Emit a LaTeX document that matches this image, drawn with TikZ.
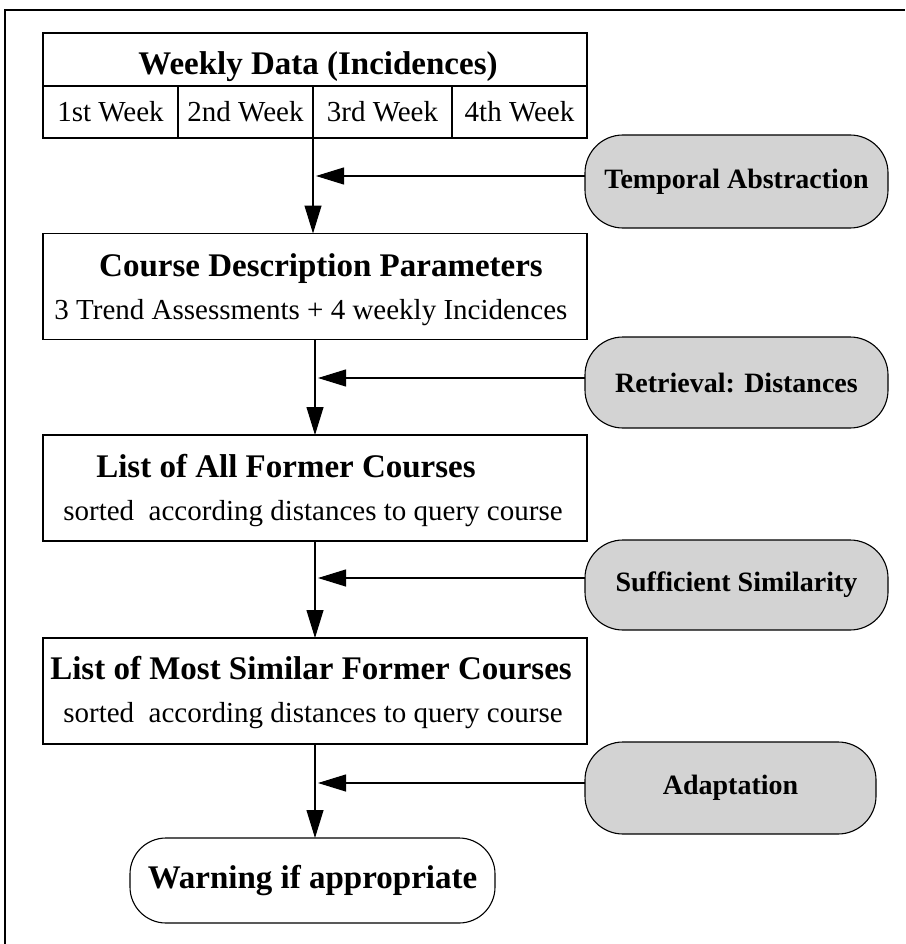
\documentclass[tikz,border=0pt]{standalone}
\usepackage{fontspec}
\setmainfont{Liberation Serif}
\usetikzlibrary{arrows.meta}
\definecolor{opgray}{RGB}{211,211,211}
\begin{document}
\begin{tikzpicture}[x=1pt,y=-1pt,
  every node/.style={inner sep=0pt, outer sep=0pt},
  frame/.style={line width=1.6pt},
  stage/.style={draw, line width=1.1pt, rectangle, minimum width=544pt, minimum height=106pt},
  cell/.style={draw, line width=1.1pt, rectangle, minimum height=52pt, font=\fontsize{29}{32}\selectfont},
  op/.style={draw, line width=1.1pt, fill=opgray, rounded corners=38pt, font=\fontsize{28}{30}\selectfont\bfseries},
  ttl/.style={font=\fontsize{33}{36}\selectfont\bfseries, anchor=base},
  sub/.style={font=\fontsize{29}{32}\selectfont, anchor=base},
  flow/.style={line width=1.1pt, -{Triangle[length=28pt,width=17pt]}},
]
\useasboundingbox (0,0) rectangle (905,944);

% outer frame (top and left edges)
\draw[frame] (5,944) -- (5,10) -- (905,10);

% weekly data table
\node[draw, line width=1.1pt, minimum width=544pt, minimum height=53pt] (head) at (315,59.5) {};
\node[ttl] (headtxt) at (318,75) {Weekly Data (Incidences)};
\node[cell, minimum width=135pt] (w1) at (110.5,112) {1st Week};
\node[cell, minimum width=135pt] (w2) at (245.5,112) {2nd Week};
\node[cell, minimum width=139pt] (w3) at (382.5,112) {3rd Week};
\node[cell, minimum width=135pt] (w4) at (519.5,112) {4th Week};

% processing stages
\node[stage] (b2) at (315,286.5) {};
\node[ttl] (t2) at (321,276) {Course Description Parameters};
\node[sub] (u2) at (311,319) {3 Trend Assessments + 4 weekly Incidences};

\node[stage] (b3) at (315,488) {};
\node[ttl] (t3) at (286,477) {List of All Former Courses};
\node[sub] (u3) at (313,520) {sorted\ \ according distances to query course};

\node[stage] (b4) at (315,691) {};
\node[ttl] (t4) at (311,679) {List of Most Similar Former Courses};
\node[sub] (u4) at (313,722) {sorted\ \ according distances to query course};

\node[draw, line width=1.1pt, rounded corners=36pt, minimum width=365pt, minimum height=85pt,
      font=\fontsize{33}{36}\selectfont\bfseries] (warn) at (312.5,880.5) {Warning if appropriate};

% operations
\node[op, minimum width=303pt, minimum height=93pt] (s1) at (736.5,181.5) {Temporal Abstraction};
\node[op, minimum width=303pt, minimum height=91pt] (s2) at (736.5,382.5) {Retrieval: Distances};
\node[op, minimum width=303pt, minimum height=90pt] (s3) at (736.5,585) {Sufficient Similarity};
\node[op, minimum width=291pt, minimum height=92pt] (s4) at (730.5,788) {Adaptation};

% main flow
\draw[flow] (w3.south west) -- (w3.south west |- b2.north);
\draw[flow] (b2.south) -- (b3.north);
\draw[flow] (b3.south) -- (b4.north);
\draw[flow] (b4.south) -- (b4.south |- warn.north);

% operations feeding the flow
\coordinate (j1) at ([yshift=5.5pt]s1.west);
\coordinate (j2) at ([yshift=4.5pt]s2.west);
\coordinate (j3) at ([yshift=7pt]s3.west);
\coordinate (j4) at ([yshift=5pt]s4.west);
\draw[flow, shorten >=3pt] (j1) -- (j1 -| w3.south west);
\draw[flow, shorten >=3pt] (j2) -- (j2 -| b2.south);
\draw[flow, shorten >=3pt] (j3) -- (j3 -| b3.south);
\draw[flow, shorten >=3pt] (j4) -- (j4 -| b4.south);
\end{tikzpicture}
\end{document}
